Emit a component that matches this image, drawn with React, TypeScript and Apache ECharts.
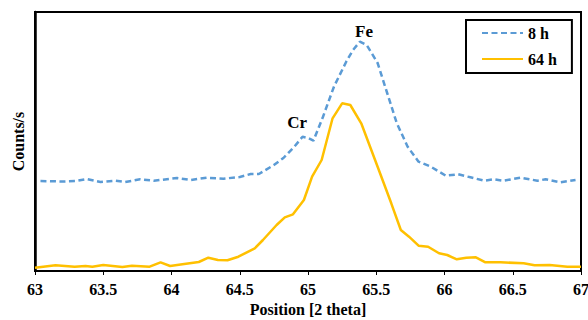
import React, { useEffect, useRef } from "react";
import * as echarts from "echarts";

const xTicks = { min: 63, max: 67, interval: 0.5 };

const x8h = [63.04, 63.2, 63.3, 63.38, 63.48, 63.59, 63.66, 63.77, 63.87, 64.04, 64.14, 64.26, 64.38, 64.5, 64.58, 64.64, 64.75, 64.82, 64.9, 64.96, 65.0, 65.04, 65.11, 65.19, 65.28, 65.33, 65.38, 65.43, 65.51, 65.58, 65.65, 65.73, 65.81, 65.9, 66.01, 66.1, 66.19, 66.29, 66.36, 66.43, 66.56, 66.68, 66.74, 66.85, 66.96];
const y8h = [90, 89.5, 90, 92, 89, 90.3, 89, 91.7, 90.3, 93, 91, 93.3, 92.3, 94, 97, 97, 106, 113, 124.3, 134.3, 133, 130.3, 154.3, 184.3, 209.3, 221, 229.3, 226, 208, 178, 148, 124.3, 109.3, 104.3, 95.3, 96.7, 93.7, 90.3, 91.7, 90.3, 93.3, 90.3, 91.7, 88.7, 91];

const x64h = [63.0, 63.15, 63.29, 63.37, 63.42, 63.5, 63.64, 63.71, 63.84, 63.92, 63.99, 64.08, 64.2, 64.27, 64.34, 64.41, 64.49, 64.61, 64.67, 64.77, 64.83, 64.89, 64.97, 65.03, 65.1, 65.18, 65.25, 65.31, 65.39, 65.51, 65.61, 65.68, 65.74, 65.81, 65.88, 65.96, 66.02, 66.09, 66.16, 66.23, 66.3, 66.41, 66.58, 66.66, 66.77, 66.9, 67.0];
const y64h = [3.3, 5.7, 4.3, 5, 4.3, 6, 4, 5.3, 4.3, 8.7, 5, 6.7, 9, 13.3, 11, 10.7, 14.3, 22.7, 31, 46, 53.7, 56.7, 71, 94.3, 111, 152.7, 167.7, 166, 147.7, 104.3, 67.7, 41, 34.3, 25.3, 24.3, 17.7, 16, 11.7, 13.3, 13.7, 8.7, 8.7, 7.7, 5.7, 6, 4.3, 4.3];

const seriesNames = ["8 h", "64 h"];
const peakLabels = [
  { name: "Fe", coord: [65.41, 240] },
  { name: "Cr", coord: [64.92, 149] },
];

const FONT = "Liberation Serif";

export default function App() {
  const ref = useRef<HTMLDivElement>(null);
  useEffect(() => {
    if (!ref.current) return;
    const chart = echarts.init(ref.current, null, { renderer: "svg" });
    chart.setOption({
      animation: false,
      backgroundColor: "#fff",
      grid: {
        left: 35,
        top: 12,
        right: 7,
        bottom: 49,
        show: true,
        borderColor: "#000",
        borderWidth: 2,
        containLabel: false,
        outerBoundsMode: "none",
      },
      legend: {
        orient: "vertical",
        left: 466,
        top: 20,
        padding: [5, 15, 6, 15],
        borderColor: "#000",
        borderWidth: 2,
        itemWidth: 41,
        itemHeight: 14,
        itemGap: 10,
        itemStyle: { opacity: 0 },
        textStyle: {
          fontFamily: FONT,
          fontWeight: "bold",
          fontSize: 16,
          color: "#000",
          lineHeight: 16,
        },
        data: seriesNames,
      },
      xAxis: {
        type: "value",
        min: xTicks.min,
        max: xTicks.max,
        interval: xTicks.interval,
        name: "Position [2 theta]",
        nameLocation: "middle",
        nameGap: 28,
        nameTextStyle: { fontFamily: FONT, fontWeight: "bold", fontSize: 16, color: "#000" },
        axisLine: { show: true, lineStyle: { color: "#000", width: 2 } },
        axisTick: { show: true, inside: false, length: 4, lineStyle: { color: "#000", width: 1 } },
        axisLabel: { fontFamily: FONT, fontWeight: "bold", fontSize: 16, color: "#000", margin: 10 },
        splitLine: { show: false },
      },
      yAxis: {
        type: "value",
        min: 0,
        max: 259,
        name: "Counts/s",
        nameLocation: "middle",
        nameGap: 9,
        nameTextStyle: { fontFamily: FONT, fontWeight: "bold", fontSize: 16, color: "#000" },
        axisLine: { show: true, lineStyle: { color: "#000", width: 2.5 } },
        axisTick: { show: false },
        axisLabel: { show: false },
        splitLine: { show: false },
      },
      series: [
        {
          name: seriesNames[0],
          type: "line",
          symbol: "none",
          smooth: false,
          lineStyle: { color: "#5B9BD5", width: 2.5, type: [6, 3.5] },
          itemStyle: { color: "#5B9BD5" },
          data: x8h.map((x, i) => [x, y8h[i]]),
          markPoint: {
            symbol: "circle",
            symbolSize: 1,
            itemStyle: { color: "rgba(0,0,0,0)" },
            label: {
              show: true,
              position: "inside",
              formatter: (p: any) => p.name,
              fontFamily: FONT,
              fontWeight: "bold",
              fontSize: 17,
              color: "#000",
            },
            data: peakLabels.map((d) => ({ name: d.name, coord: d.coord })),
          },
        },
        {
          name: seriesNames[1],
          type: "line",
          symbol: "none",
          smooth: false,
          lineStyle: { color: "#FFC000", width: 2.5 },
          itemStyle: { color: "#FFC000" },
          data: x64h.map((x, i) => [x, y64h[i]]),
        },
      ],
    });
    return () => chart.dispose();
  }, []);
  return (
    <div
      ref={ref}
      style={{ position: "fixed", left: 0, top: 0, width: 588, height: 320, background: "#fff" }}
    />
  );
}
